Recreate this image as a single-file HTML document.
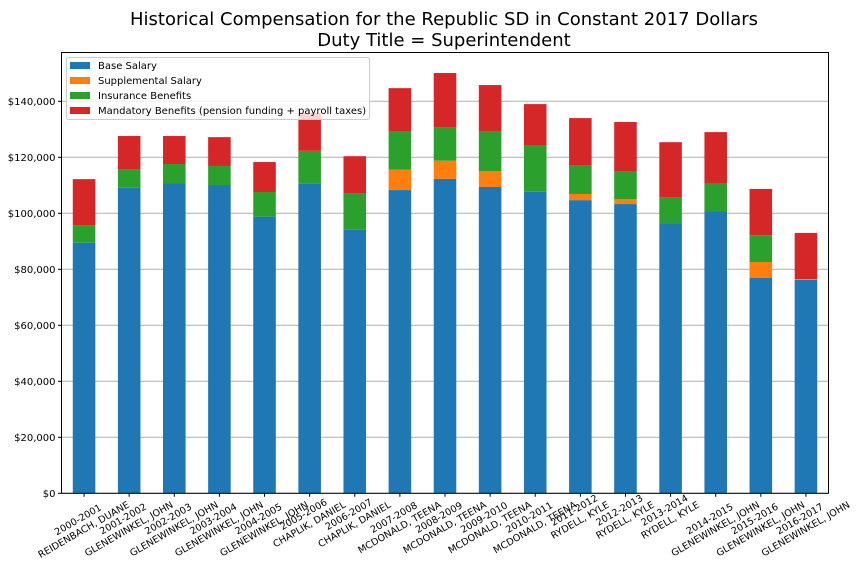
<!DOCTYPE html>
<html><head><meta charset="utf-8"><style>
body{margin:0;background:#fff}
svg{display:block;font-family:"DejaVu Sans","Liberation Sans",sans-serif}
</style></head><body>
<svg id="chart" width="864" height="576" viewBox="0 0 864 576">
<text x="444" y="25" font-size="18" text-anchor="middle" fill="#000">Historical Compensation for the Republic SD in Constant 2017 Dollars</text>
<text x="444" y="46" font-size="18" text-anchor="middle" fill="#000">Duty Title = Superintendent</text>
<g id="grid"></g>
<g id="bars"></g>
<g id="yaxis"></g>
<g id="xaxis"></g>
<rect x="61.5" y="52.5" width="767" height="440.8" fill="none" stroke="#000" stroke-width="1"/>
<g>
<rect x="66.5" y="57.5" width="303" height="62" rx="2" fill="#fff" fill-opacity="0.8" stroke="#ccc"/>
<rect x="70" y="62" width="20" height="7" fill="#1f77b4"/><text x="98" y="69" font-size="10">Base Salary</text>
<rect x="70" y="77" width="20" height="7" fill="#ff7f0e"/><text x="98" y="84" font-size="10">Supplemental Salary</text>
<rect x="70" y="92" width="20" height="7" fill="#2ca02c"/><text x="98" y="99" font-size="10">Insurance Benefits</text>
<rect x="70" y="107" width="20" height="7" fill="#d62728"/><text x="98" y="114" font-size="10">Mandatory Benefits (pension funding + payroll taxes)</text>
</g>
</svg>
<script>
const years=["2000-2001","2001-2002","2002-2003","2003-2004","2004-2005","2005-2006","2006-2007","2007-2008","2008-2009","2009-2010","2010-2011","2011-2012","2012-2013","2013-2014","2014-2015","2015-2016","2016-2017"];
const names=["REIDENBACH, DUANE","GLENEWINKEL, JOHN","GLENEWINKEL, JOHN","GLENEWINKEL, JOHN","GLENEWINKEL, JOHN","CHAPLIK, DANIEL","CHAPLIK, DANIEL","MCDONALD, TEENA","MCDONALD, TEENA","MCDONALD, TEENA","MCDONALD, TEENA","RYDELL, KYLE","RYDELL, KYLE","RYDELL, KYLE","GLENEWINKEL, JOHN","GLENEWINKEL, JOHN","GLENEWINKEL, JOHN"];
const baseSalary=[89500,109100,110800,110100,98800,110500,94100,108300,112300,109400,107700,104700,103300,96500,100800,76900,76200];
const supplemental=[0,0,0,0,0,0,0,7300,6500,5700,0,2200,1800,0,0,5700,300];
const insurance=[6300,6700,6800,6800,8800,11800,12900,13500,12000,14300,16400,10100,10000,9300,9800,9600,0];
const mandatory=[16400,11800,10000,10300,10700,13500,13400,15600,19300,16400,14900,17000,17500,19600,18400,16500,16500];
const yTicks=[0,20000,40000,60000,80000,100000,120000,140000];
const NS="http://www.w3.org/2000/svg";
const X0=61.5,X1=828.5,Y0=493.3,PER=56/20000;
const n=years.length;
function xs(i){return X0+(i+0.5)*(X1-X0)/n;}
function ys(v){return Y0-v*PER;}
const bw=0.5*(X1-X0)/n;
function mk(tag,attrs,parent){const e=document.createElementNS(NS,tag);for(const k in attrs)e.setAttribute(k,attrs[k]);parent.appendChild(e);return e;}
const grid=document.getElementById('grid'),bars=document.getElementById('bars'),ya=document.getElementById('yaxis'),xa=document.getElementById('xaxis');
yTicks.forEach(t=>{
 const y=ys(t);
 const g=mk('line',{x1:X0,x2:X1,y1:y,y2:y,stroke:'#b0b0b0','stroke-width':1},grid);
 
 
 mk('line',{x1:X0-3.5,x2:X0,y1:y,y2:y,stroke:'#000'},ya);
 const tx=mk('text',{x:X0-6,y:y+3.5,'font-size':10,'text-anchor':'end'},ya);
 tx.textContent='$'+t.toLocaleString('en-US');
 
 
});
const series=[[baseSalary,'#1f77b4','base'],[supplemental,'#ff7f0e','supplemental'],[insurance,'#2ca02c','insurance'],[mandatory,'#d62728','mandatory']];
for(let i=0;i<n;i++){
 let acc=0;
 series.forEach(([arr,col,nm])=>{
  const v=arr[i];if(v<=0)return;
  const r=mk('rect',{x:xs(i)-bw/2,y:ys(acc+v),width:bw,height:v*PER,fill:col},bars);
  
  
  acc+=v;
 });
 const cx=xs(i);
 mk('line',{x1:cx,x2:cx,y1:Y0,y2:Y0+3.5,stroke:'#000'},xa);
 const g=mk('g',{},xa);
 
 
 const t1=mk('text',{x:0,y:-3,'font-size':9.6,'text-anchor':'middle'},g);t1.textContent=years[i];
 const t2=mk('text',{x:0,y:8.5,'font-size':9.6,'text-anchor':'middle'},g);t2.textContent=names[i];
 const W=Math.max(t1.getComputedTextLength(),t2.getComputedTextLength()),H=23;
 const cy=Y0-4+(W*0.5+H*0.866)/2;
 g.setAttribute('transform','translate('+(cx-3)+','+cy+') rotate(-30)');
}
</script>
</body></html>
